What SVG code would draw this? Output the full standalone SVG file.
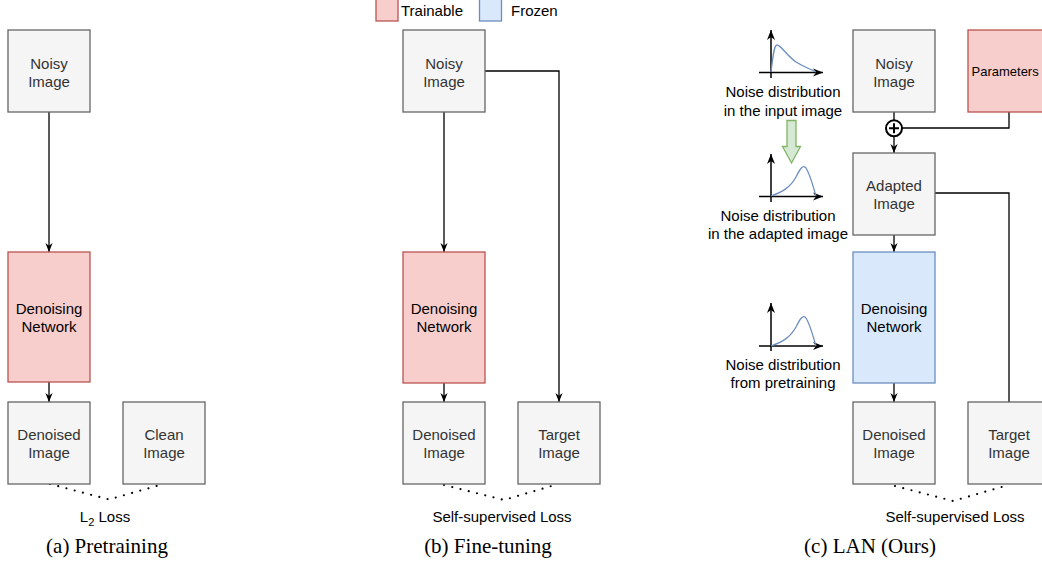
<svg xmlns="http://www.w3.org/2000/svg" width="1042" height="562" viewBox="0 0 1042 562">
<style>
.gray{fill:#f5f5f5;stroke:#666666;stroke-width:1.3}
.red{fill:#f8cecc;stroke:#b85450;stroke-width:1.3}
.blue{fill:#dae8fc;stroke:#6c8ebf;stroke-width:1.3}
.t{font-family:"Liberation Sans",Arial,sans-serif;font-size:15px;text-anchor:middle}
.tg{fill:#333333}
.tb{fill:#000000}
.cap{font-family:"Liberation Serif","Times New Roman",serif;font-size:21px;text-anchor:middle;fill:#000}
.ln{fill:none;stroke:#000;stroke-width:1.3}
.dot{fill:none;stroke:#000;stroke-width:2.2;stroke-linecap:round;stroke-dasharray:0 8.5}
.crv{fill:none;stroke:#6c8ebf;stroke-width:1.3}
.ax{fill:none;stroke:#000;stroke-width:1.5}
</style>
<defs>
<marker id="arr" viewBox="0 0 10 8" refX="10" refY="4" markerWidth="9" markerHeight="8" markerUnits="userSpaceOnUse" orient="auto">
<path d="M0,0 L10,4 L0,8 L3,4 z" fill="#000"/>
</marker>
<marker id="axa" viewBox="0 0 10 8" refX="10" refY="4" markerWidth="10" markerHeight="9" markerUnits="userSpaceOnUse" orient="auto">
<path d="M0,0 L10,4 L0,8 L3,4 z" fill="#000"/>
</marker>
</defs>
<rect width="1042" height="562" fill="#ffffff"/>

<!-- Legend -->
<g id="legend">
<rect x="376" y="-1" width="22" height="22" class="red"/>
<text x="401" y="15.5" class="t tb" style="text-anchor:start">Trainable</text>
<rect x="479.5" y="-1" width="22" height="22" class="blue"/>
<text x="511" y="15.5" class="t tb" style="text-anchor:start">Frozen</text>
</g>

<!-- Connectors -->
<g id="connectors">
<!-- (a) -->
<path d="M49,112 V252" class="ln" marker-end="url(#arr)"/>
<path d="M49,382 V402" class="ln" marker-end="url(#arr)"/>
<path d="M50,484 L109,499.5 L160,485" class="dot"/>
<!-- (b) -->
<path d="M444,112 V252" class="ln" marker-end="url(#arr)"/>
<path d="M485,71 H559 V402" class="ln" marker-end="url(#arr)"/>
<path d="M444,383 V402" class="ln" marker-end="url(#arr)"/>
<path d="M444,485 L504,500 L555,485" class="dot"/>
<!-- (c) -->
<path d="M894,112 V120" class="ln"/>
<path d="M1009,112 V128 H902" class="ln"/>
<path d="M894,136.5 V153" class="ln" marker-end="url(#arr)"/>
<path d="M935,193 H1009 V402" class="ln"/>
<path d="M894,235 V252" class="ln" marker-end="url(#arr)"/>
<path d="M894,383 V402" class="ln" marker-end="url(#arr)"/>
<path d="M895,486 L953,501 L1005,486" class="dot"/>
</g>

<!-- Panel (a) nodes -->
<g id="a-noisy"><rect x="8" y="30" width="82" height="82" class="gray"/>
<text x="49" y="68.5" class="t tg">Noisy</text><text x="49" y="86.5" class="t tg">Image</text></g>
<g id="a-net"><rect x="8" y="252" width="82" height="130" class="red"/>
<text x="49" y="313.5" class="t tb">Denoising</text><text x="49" y="331.5" class="t tb">Network</text></g>
<g id="a-denoised"><rect x="8" y="402" width="82" height="82" class="gray"/>
<text x="49" y="439.5" class="t tg">Denoised</text><text x="49" y="457.5" class="t tg">Image</text></g>
<g id="a-clean"><rect x="123" y="402" width="82" height="82" class="gray"/>
<text x="164" y="439.5" class="t tg">Clean</text><text x="164" y="457.5" class="t tg">Image</text></g>
<text x="105" y="521.5" class="t tb">L<tspan font-size="11" dy="4">2</tspan><tspan dy="-4"> Loss</tspan></text>
<text x="107" y="553" class="cap">(a) Pretraining</text>

<!-- Panel (b) nodes -->
<g id="b-noisy"><rect x="403" y="30" width="82" height="82" class="gray"/>
<text x="444" y="68.5" class="t tg">Noisy</text><text x="444" y="86.5" class="t tg">Image</text></g>
<g id="b-net"><rect x="403" y="252" width="82" height="131" class="red"/>
<text x="444" y="314" class="t tb">Denoising</text><text x="444" y="332" class="t tb">Network</text></g>
<g id="b-denoised"><rect x="403" y="402" width="82" height="82" class="gray"/>
<text x="444" y="440" class="t tg">Denoised</text><text x="444" y="458" class="t tg">Image</text></g>
<g id="b-target"><rect x="518" y="402" width="82" height="82" class="gray"/>
<text x="559" y="440" class="t tg">Target</text><text x="559" y="458" class="t tg">Image</text></g>
<text x="502" y="522" class="t tb">Self-supervised Loss</text>
<text x="488" y="553" class="cap">(b) Fine-tuning</text>

<!-- Panel (c) nodes -->
<g id="c-noisy"><rect x="853" y="30" width="82" height="82" class="gray"/>
<text x="894" y="68.5" class="t tg">Noisy</text><text x="894" y="86.5" class="t tg">Image</text></g>
<g id="c-params"><rect x="968" y="30" width="82" height="82" class="red"/>
<text x="971.5" y="76" class="t tb" style="text-anchor:start;font-size:13px">Parameters</text></g>
<g id="c-plus"><circle cx="894" cy="128.3" r="8" fill="#ffffff" stroke="#000" stroke-width="2"/>
<path d="M889,128.3 H899 M894,123.3 V133.3" stroke="#000" stroke-width="2"/></g>
<g id="c-adapted"><rect x="853" y="153" width="82" height="82" class="gray"/>
<text x="894" y="190.5" class="t tg">Adapted</text><text x="894" y="208.5" class="t tg">Image</text></g>
<g id="c-net"><rect x="853" y="252" width="82" height="131" class="blue"/>
<text x="894" y="314" class="t tb">Denoising</text><text x="894" y="332" class="t tb">Network</text></g>
<g id="c-denoised"><rect x="853" y="402" width="82" height="82" class="gray"/>
<text x="894" y="440" class="t tg">Denoised</text><text x="894" y="458" class="t tg">Image</text></g>
<g id="c-target"><rect x="968" y="402" width="82" height="82" class="gray"/>
<text x="1009" y="440" class="t tg">Target</text><text x="1009" y="458" class="t tg">Image</text></g>
<text x="955" y="522" class="t tb">Self-supervised Loss</text>
<text x="870" y="553" class="cap">(c) LAN (Ours)</text>

<!-- Distribution plots -->
<g id="plot-input">
<path d="M771,78 V30" class="ax" marker-end="url(#axa)"/>
<path d="M759,72.5 H823" class="ax" marker-end="url(#axa)"/>
<path d="M771,72 C773,56 774,45 777,45 C781,45 786,55 796,62 C804,67 810,69 816,72" class="crv"/>
<text x="783" y="97" class="t tb">Noise distribution</text>
<text x="783" y="115.5" class="t tb">in the input image</text>
</g>
<g id="green-arrow">
<path d="M787,120.5 H796 V146.5 H800.5 L791.5,163 L782.5,146.5 H787 Z" fill="#d5e8d4" stroke="#82b366" stroke-width="1.3"/>
</g>
<g id="plot-adapted">
<path d="M771,202 V154" class="ax" marker-end="url(#axa)"/>
<path d="M759,196.5 H823" class="ax" marker-end="url(#axa)"/>
<path d="M771,196 C782,192 790,188 796,177 C800,169 803,164 806,168 C810,174 813,186 816,196" class="crv"/>
<text x="778" y="220.5" class="t tb">Noise distribution</text>
<text x="778" y="239" class="t tb">in the adapted image</text>
</g>
<g id="plot-pretrain">
<path d="M771,351 V303" class="ax" marker-end="url(#axa)"/>
<path d="M759,346 H823" class="ax" marker-end="url(#axa)"/>
<path d="M771,346 C782,342 790,338 796,327 C800,319 803,314 806,318 C810,324 813,336 816,346" class="crv"/>
<text x="783" y="369.5" class="t tb">Noise distribution</text>
<text x="783" y="388" class="t tb">from pretraining</text>
</g>
</svg>
